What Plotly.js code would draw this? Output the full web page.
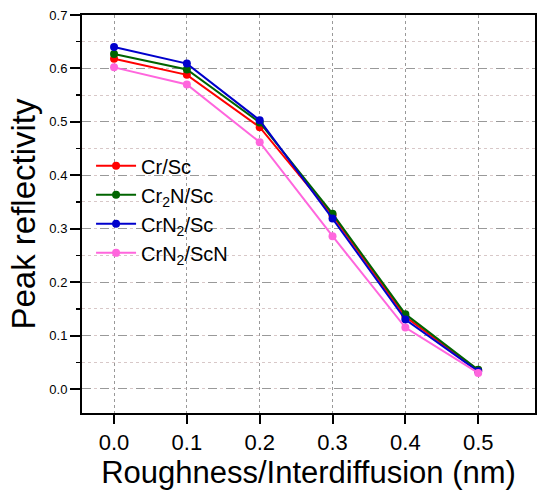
<!DOCTYPE html>
<html>
<head>
<meta charset="utf-8">
<script src="https://cdn.plot.ly/plotly-3.0.1.min.js"></script>
<style>html,body{margin:0;padding:0;background:#fff;}#chart{width:544px;height:490px;}</style>
</head>
<body>
<div id="chart"></div>
<script>
const roughness = [0.0, 0.1, 0.2, 0.3, 0.4, 0.5];
const crSc = [0.618, 0.588, 0.490, 0.325, 0.135, 0.035];
const cr2nSc = [0.627, 0.598, 0.499, 0.328, 0.140, 0.036];
const crn2Sc = [0.640, 0.609, 0.503, 0.319, 0.130, 0.033];
const crn2ScN = [0.602, 0.570, 0.462, 0.286, 0.115, 0.030];
const seriesNames = ['Cr/Sc', 'Cr<sub>2</sub>N/Sc', 'CrN<sub>2</sub>/Sc', 'CrN<sub>2</sub>/ScN'];
const seriesColors = ['#ff0000', '#006400', '#0000cc', '#ff66dd'];
const seriesData = [crSc, cr2nSc, crn2Sc, crn2ScN];
const xTicks = [0.0, 0.1, 0.2, 0.3, 0.4, 0.5];
const yTicks = [0.0, 0.1, 0.2, 0.3, 0.4, 0.5, 0.6, 0.7];

const font = 'Liberation Sans, Arial, sans-serif';
const traces = seriesData.map((d, i) => ({
  x: roughness, y: d, name: seriesNames[i], type: 'scatter', mode: 'lines+markers',
  line: {color: seriesColors[i], width: 2},
  marker: {color: seriesColors[i], size: 8}
}));

const layout = {
  width: 544, height: 490,
  margin: {l: 82, r: 9, t: 15, b: 77},
  paper_bgcolor: '#ffffff', plot_bgcolor: '#ffffff',
  showlegend: true,
  legend: {x: 0.02, y: 0.67, xanchor: 'left', yanchor: 'top', bgcolor: 'rgba(0,0,0,0)',
    font: {family: font, size: 20, color: '#000'}, tracegroupgap: 0, itemwidth: 40},
  xaxis: {
    range: [-0.044, 0.578], tickvals: xTicks, ticktext: xTicks.map(v => v.toFixed(1)),
    showline: true, linecolor: '#000', linewidth: 2, mirror: true,
    ticks: 'outside', ticklen: 9, tickwidth: 2, tickcolor: '#000',
    showgrid: true, gridcolor: '#999', griddash: 'dot', gridwidth: 1, zeroline: false,
    tickfont: {family: font, size: 22, color: '#000'},
    title: {text: 'Roughness/Interdiffusion (nm)', font: {family: font, size: 31, color: '#000'}, standoff: 4}
  },
  yaxis: {
    range: [-0.045, 0.7], tickvals: yTicks, ticktext: yTicks.map(v => v.toFixed(1)),
    showline: true, linecolor: '#000', linewidth: 2, mirror: true,
    ticks: 'outside', ticklen: 10, tickwidth: 2, tickcolor: '#000',
    showgrid: true, gridcolor: '#999', griddash: 'dash', gridwidth: 1, zeroline: false,
    tickfont: {family: font, size: 13, color: '#000'},
    minor: {dtick: 0.05, tick0: 0, ticks: 'outside', ticklen: 4, tickwidth: 1.5, tickcolor: '#000',
      showgrid: true, gridcolor: '#d8c8c8', griddash: 'dot', gridwidth: 1},
    title: {text: 'Peak reflectivity', font: {family: font, size: 33, color: '#000'}, standoff: 4}
  }
};
Plotly.newPlot('chart', traces, layout, {displayModeBar: false, staticPlot: true});
</script>
</body>
</html>
